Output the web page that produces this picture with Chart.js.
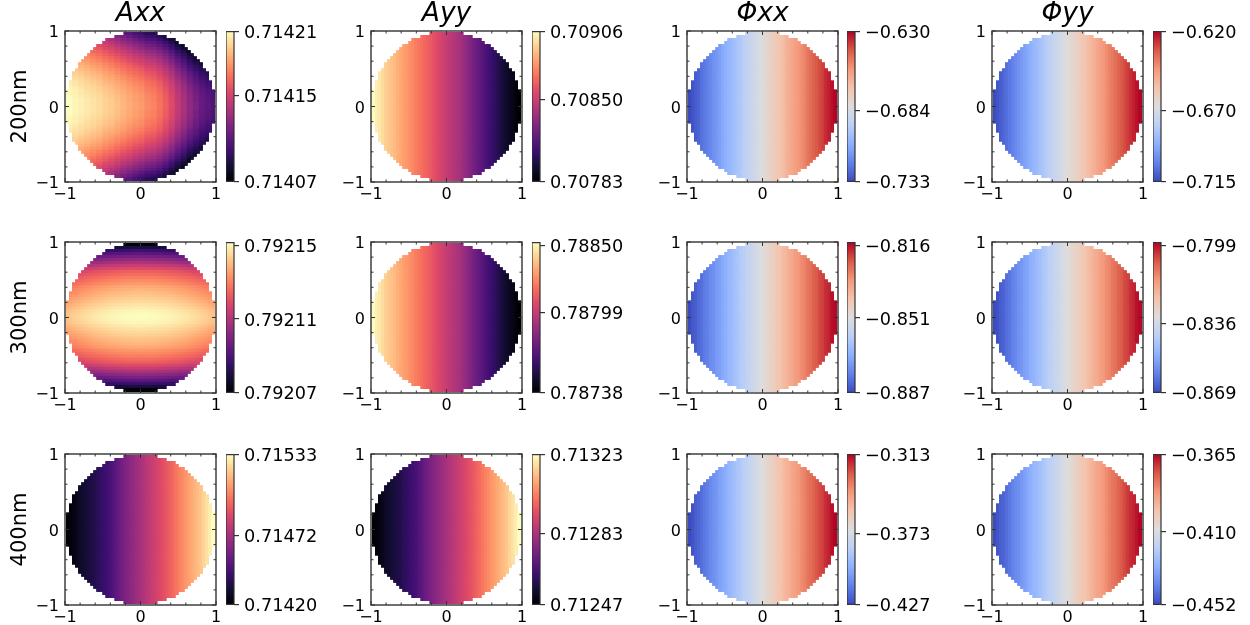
<!DOCTYPE html>
<html>
<head>
<meta charset="utf-8">
<script src="https://cdn.jsdelivr.net/npm/chart.js@4"></script>
<style>
html, body { margin: 0; background: #fff; overflow: hidden; }
body { position: relative; width: 1250px; height: 625px; filter: blur(0.6px); }
canvas { position: absolute; }
</style>
</head>
<body>
<script>
// labels
const rowLabels = ['200nm', '300nm', '400nm'];
const columnTitles = ['Axx', 'Ayy', 'Φxx', 'Φyy'];
const axisTickValues = [-1, 0, 1];
const axisTickLabels = ['−1', '0', '1'];
const minorTickValues = [-0.8, -0.6, -0.4, -0.2, 0.2, 0.4, 0.6, 0.8];

// colorbar tick labels, one row per wavelength, one entry per column
const barTicks = [
    [['0.71407', '0.71415', '0.71421'], ['0.70783', '0.70850', '0.70906'], ['−0.733', '−0.684', '−0.630'], ['−0.715', '−0.670', '−0.620']],
    [['0.79207', '0.79211', '0.79215'], ['0.78738', '0.78799', '0.78850'], ['−0.887', '−0.851', '−0.816'], ['−0.869', '−0.836', '−0.799']],
    [['0.71420', '0.71472', '0.71533'], ['0.71247', '0.71283', '0.71323'], ['−0.427', '−0.373', '−0.313'], ['−0.452', '−0.410', '−0.365']]
];
// top of each colorbar (row 300nm runs a little past its last tick)
const barMax = [
    [0.71421, 0.70906, -0.630, -0.620],
    [0.7921516, 0.78852, -0.8146, -0.7976],
    [0.71533, 0.71323, -0.313, -0.365]
];

// Axx 200nm: rows from y=0 up to y=0.96, two grid columns per entry, in 1e-6 above 0.714
const axx200Table = [
    [210,208,206,204,202,200,197,195,192,189,186,183,181,176,174,169,162,154,144,136,127,120,113,109,105],
    [210,208,206,204,202,200,197,195,192,189,186,183,181,176,174,169,162,154,144,136,127,120,113,109,105],
    [210,208,206,204,202,200,197,195,191,188,185,182,180,175,173,168,161,153,143,135,126,119,112,108,104],
    [209,207,205,203,201,199,196,194,191,188,185,182,180,175,173,168,161,153,143,135,126,119,112,108,104],
    [208,206,204,202,200,198,195,193,190,187,184,181,179,174,172,167,160,152,142,134,125,118,111,107,103],
    [208,206,204,201,199,197,194,192,189,186,183,179,177,172,170,165,158,150,140,132,123,116,109,105,101],
    [207,205,202,200,198,196,193,191,187,184,181,178,176,171,169,164,157,149,139,131,122,115,108,103,99],
    [206,203,201,199,197,194,191,189,186,183,179,176,174,169,167,162,155,147,137,129,120,113,106,101,97],
    [204,202,200,197,195,193,189,187,184,181,177,174,172,167,165,160,153,145,135,127,117,110,103,99,95],
    [203,200,198,195,193,191,187,185,182,178,175,172,169,164,162,157,150,142,132,124,115,108,101,96,92],
    [201,198,196,193,191,189,185,183,179,176,172,169,166,161,159,154,147,139,129,121,112,105,98,93,89],
    [199,196,194,191,189,186,183,180,176,173,169,166,163,158,156,151,144,136,126,118,109,102,95,90,86],
    [197,194,191,189,186,184,180,177,174,170,166,163,160,155,153,148,141,133,123,115,105,98,91,86,82],
    [195,192,189,186,183,181,177,174,170,167,163,159,156,151,149,144,137,129,119,111,102,95,88,83,79],
    [192,189,186,183,180,178,174,171,167,163,159,155,152,147,145,140,133,125,115,107,97,90,83,78,74],
    [190,186,183,180,177,174,170,167,163,159,155,151,148,143,141,136,129,121,111,103,93,86,79,74,70],
    [187,183,180,177,174,171,167,164,159,155,151,147,144,139,137,132,125,117,107,99,89,82,75,70,70],
    [184,180,177,174,170,167,163,159,155,151,147,142,139,134,132,127,120,112,102,94,84,77,70,70,70],
    [181,177,173,170,166,163,159,155,151,146,142,137,134,129,127,122,115,107,97,89,78,71,70,70,70],
    [177,173,170,166,162,159,154,151,146,141,137,132,128,123,121,116,109,101,91,83,73,70,70,70,70],
    [174,170,166,162,158,155,150,146,141,136,132,127,123,118,116,111,104,96,86,78,70,70,70,70,70],
    [170,166,161,157,153,150,145,141,136,130,126,121,117,112,110,105,98,90,80,72,70,70,70,70,70],
    [166,162,157,153,149,145,140,135,130,125,120,115,110,105,103,98,91,83,73,70,70,70,70,70,70],
    [162,157,153,148,144,140,134,130,124,119,114,108,104,99,97,92,85,77,70,70,70,70,70,70,70],
    [158,153,148,143,138,135,129,124,118,112,108,102,97,92,90,85,78,70,70,70,70,70,70,70,70]
];

// Axx 300nm: value by row from y=0 to y=0.96, and the small drop by |x| in 1e-7
const axx300ByRow = [0.7921516,0.7921512,0.7921504,0.7921487,0.7921471,0.7921455,0.7921438,0.7921422,0.7921406,0.792139,0.7921373,0.7921345,0.792132,0.7921296,0.7921267,0.7921239,0.7921194,0.7921145,0.7921092,0.7921039,0.7920986,0.7920928,0.7920867,0.7920798,0.7920708];
const axx300DropByCol = [0,0,1,2,3,4,6,8,11,14,17,21,24,29,33,38,43,49,55,61,68,75,82,90,98];

// the rest only change along x, one value per grid column from x=-0.96 to x=0.96
const axx400 = [0.7142,0.714217,0.714234,0.714257,0.714279,0.714296,0.714313,0.71433,0.714341,0.714358,0.714381,0.714398,0.71442,0.714437,0.71446,0.714488,0.714516,0.71455,0.714579,0.714607,0.714629,0.714652,0.714675,0.714697,0.71472,0.714742,0.714765,0.714788,0.71481,0.714833,0.714855,0.714878,0.714901,0.714923,0.714946,0.714974,0.715002,0.715031,0.715053,0.715081,0.715104,0.715127,0.715149,0.715172,0.715194,0.715228,0.715262,0.71529,0.71533];
const ayy200 = [0.70906,0.709023,0.708999,0.708968,0.708937,0.708919,0.7089,0.708882,0.708857,0.708839,0.708814,0.708796,0.708771,0.708753,0.708728,0.708703,0.708685,0.70866,0.708642,0.708617,0.708593,0.708568,0.708543,0.708519,0.708494,0.70847,0.708451,0.708427,0.708408,0.708384,0.708353,0.708322,0.708291,0.708254,0.708224,0.708193,0.708162,0.708131,0.708101,0.708076,0.708045,0.708015,0.707984,0.707953,0.707928,0.707904,0.707879,0.707855,0.70783];
const ayy300 = [0.78852,0.788486,0.788463,0.788435,0.788406,0.788389,0.788372,0.788355,0.788332,0.788315,0.788292,0.788275,0.788252,0.788235,0.788212,0.788189,0.788172,0.78815,0.788132,0.78811,0.788087,0.788064,0.788041,0.788018,0.787996,0.787973,0.787956,0.787933,0.787916,0.787893,0.787865,0.787836,0.787808,0.787773,0.787745,0.787716,0.787688,0.787659,0.787631,0.787608,0.78758,0.787551,0.787523,0.787494,0.787471,0.787448,0.787426,0.787403,0.78738];
const ayy400 = [0.71247,0.712481,0.712493,0.712508,0.712523,0.712535,0.712546,0.712557,0.712565,0.712576,0.712592,0.712603,0.712618,0.71263,0.712645,0.712664,0.712683,0.712706,0.712725,0.712744,0.712759,0.712774,0.712789,0.712804,0.71282,0.712835,0.71285,0.712865,0.71288,0.712896,0.712911,0.712926,0.712941,0.712956,0.712972,0.712991,0.71301,0.713029,0.713044,0.713063,0.713078,0.713093,0.713108,0.713124,0.713139,0.713162,0.713184,0.713203,0.71323];
const phiXx200 = [-0.733,-0.731,-0.729,-0.727,-0.724,-0.722,-0.72,-0.718,-0.716,-0.714,-0.712,-0.709,-0.707,-0.705,-0.703,-0.701,-0.699,-0.697,-0.694,-0.692,-0.69,-0.688,-0.686,-0.684,-0.682,-0.679,-0.677,-0.675,-0.673,-0.671,-0.669,-0.667,-0.664,-0.662,-0.66,-0.658,-0.656,-0.654,-0.652,-0.649,-0.647,-0.645,-0.643,-0.641,-0.639,-0.636,-0.634,-0.632,-0.63];
const phiXx300 = [-0.887,-0.885,-0.884,-0.882,-0.881,-0.879,-0.878,-0.876,-0.875,-0.873,-0.872,-0.87,-0.869,-0.867,-0.866,-0.864,-0.863,-0.861,-0.86,-0.858,-0.857,-0.855,-0.854,-0.852,-0.851,-0.849,-0.848,-0.846,-0.845,-0.843,-0.842,-0.84,-0.839,-0.837,-0.836,-0.834,-0.833,-0.831,-0.83,-0.828,-0.827,-0.825,-0.824,-0.822,-0.821,-0.819,-0.818,-0.816,-0.815];
const phiXx400 = [-0.427,-0.425,-0.422,-0.42,-0.418,-0.415,-0.413,-0.41,-0.408,-0.406,-0.403,-0.401,-0.399,-0.396,-0.394,-0.391,-0.389,-0.387,-0.384,-0.382,-0.38,-0.377,-0.375,-0.372,-0.37,-0.368,-0.365,-0.363,-0.361,-0.358,-0.356,-0.353,-0.351,-0.349,-0.346,-0.344,-0.342,-0.339,-0.337,-0.334,-0.332,-0.33,-0.327,-0.325,-0.323,-0.32,-0.318,-0.315,-0.313];
const phiYy200 = [-0.715,-0.713,-0.711,-0.709,-0.707,-0.705,-0.703,-0.701,-0.699,-0.697,-0.695,-0.693,-0.691,-0.689,-0.687,-0.685,-0.683,-0.681,-0.679,-0.677,-0.675,-0.673,-0.671,-0.669,-0.667,-0.665,-0.664,-0.662,-0.66,-0.658,-0.656,-0.654,-0.652,-0.65,-0.648,-0.646,-0.644,-0.642,-0.64,-0.638,-0.636,-0.634,-0.632,-0.63,-0.628,-0.626,-0.624,-0.622,-0.62];
const phiYy300 = [-0.869,-0.868,-0.866,-0.865,-0.863,-0.862,-0.86,-0.859,-0.857,-0.856,-0.854,-0.853,-0.851,-0.85,-0.848,-0.847,-0.845,-0.844,-0.842,-0.841,-0.839,-0.838,-0.836,-0.835,-0.833,-0.832,-0.83,-0.829,-0.828,-0.826,-0.825,-0.823,-0.822,-0.82,-0.819,-0.817,-0.816,-0.814,-0.813,-0.811,-0.81,-0.808,-0.807,-0.805,-0.804,-0.802,-0.801,-0.799,-0.798];
const phiYy400 = [-0.452,-0.45,-0.448,-0.447,-0.445,-0.443,-0.441,-0.439,-0.438,-0.436,-0.434,-0.432,-0.43,-0.428,-0.427,-0.425,-0.423,-0.421,-0.419,-0.418,-0.416,-0.414,-0.412,-0.41,-0.409,-0.407,-0.405,-0.403,-0.401,-0.399,-0.398,-0.396,-0.394,-0.392,-0.39,-0.389,-0.387,-0.385,-0.383,-0.381,-0.38,-0.378,-0.376,-0.374,-0.372,-0.37,-0.369,-0.367,-0.365];

// colormaps, evenly spaced stops
const magma = [[0,0,4],[20,14,54],[59,15,112],[100,26,128],[140,41,129],[183,55,121],[222,73,104],[247,112,92],[254,159,109],[254,207,146],[252,253,191]];
const coolwarm = [[59,76,192],[98,130,234],[141,176,254],[187,208,247],[221,221,221],[244,196,173],[244,152,122],[218,90,72],[180,4,38]];

const plotLeft = [65, 371, 687, 992];
const barLeft = [226, 532, 847, 1153];
const plotTop = [31, 242, 454];
const plotSize = 151;
const gridCount = 49;
const gridStep = 0.04;
const edgeColor = '#333';
const textColor = '#000';
const fontFamily = "'DejaVu Sans'";

const byCol = arr => (i, j) => arr[i];
const cellFuncs = [
    [
        (i, j) => 0.714 + axx200Table[Math.abs(j - 24)][i >> 1] * 1e-6,
        byCol(ayy200), byCol(phiXx200), byCol(phiYy200)
    ],
    [
        (i, j) => axx300ByRow[Math.abs(j - 24)] - axx300DropByCol[Math.abs(i - 24)] * 1e-7,
        byCol(ayy300), byCol(phiXx300), byCol(phiYy300)
    ],
    [byCol(axx400), byCol(ayy400), byCol(phiXx400), byCol(phiYy400)]
];

function tickNumber(label) {
    return Number(label.replace('−', '-'));
}

function mapColor(stops, t) {
    t = Math.min(1, Math.max(0, t));
    const p = t * (stops.length - 1);
    const a = Math.min(Math.floor(p), stops.length - 2);
    const f = p - a;
    const c = [0, 1, 2].map(k => Math.round(stops[a][k] + (stops[a + 1][k] - stops[a][k]) * f));
    return 'rgb(' + c.join(',') + ')';
}

function addCanvas(left, top, width, height) {
    const canvas = document.createElement('canvas');
    canvas.width = width;
    canvas.height = height;
    canvas.style.left = left + 'px';
    canvas.style.top = top + 'px';
    canvas.style.width = width + 'px';
    canvas.style.height = height + 'px';
    document.body.appendChild(canvas);
    return canvas;
}

// frame and inward ticks on all four sides, like the matplotlib 'in' style
const frameTicks = {
    id: 'frameTicks',
    afterDatasetsDraw(chart) {
        const { ctx, chartArea: a, scales } = chart;
        ctx.save();
        ctx.strokeStyle = edgeColor;
        ctx.lineWidth = 1;
        const drawSet = (values, len) => {
            values.forEach(v => {
                const px = scales.x.getPixelForValue(v);
                const py = scales.y.getPixelForValue(v);
                ctx.beginPath();
                ctx.moveTo(px, a.bottom); ctx.lineTo(px, a.bottom - len);
                ctx.moveTo(px, a.top); ctx.lineTo(px, a.top + len);
                ctx.moveTo(a.left, py); ctx.lineTo(a.left + len, py);
                ctx.moveTo(a.right, py); ctx.lineTo(a.right - len, py);
                ctx.stroke();
            });
        };
        drawSet(axisTickValues, 4);
        drawSet(minorTickValues, 2.5);
        ctx.lineWidth = 1.4;
        ctx.strokeRect(a.left, a.top, a.right - a.left, a.bottom - a.top);
        ctx.restore();
    }
};

const barFrame = {
    id: 'barFrame',
    afterDatasetsDraw(chart) {
        const { ctx, chartArea: a } = chart;
        ctx.save();
        ctx.strokeStyle = edgeColor;
        ctx.lineWidth = 1.2;
        ctx.strokeRect(a.left, a.top, a.right - a.left, a.bottom - a.top);
        ctx.restore();
    }
};

function drawPanel(row, col) {
    const stops = col < 2 ? magma : coolwarm;
    const lo = tickNumber(barTicks[row][col][0]);
    const hi = barMax[row][col];
    const cell = cellFuncs[row][col];
    const points = [];
    const colors = [];
    for (let j = 0; j < gridCount; j++) {
        for (let i = 0; i < gridCount; i++) {
            const x = (i - 24) * gridStep;
            const y = (24 - j) * gridStep;
            if (x * x + y * y > 0.97) continue;
            const v = cell(i, j);
            points.push({ x: x, y: y });
            colors.push(mapColor(stops, (v - lo) / (hi - lo)));
        }
    }
    const marginLeft = 60, marginTop = 30, marginBottom = 28, marginRight = 15;
    const canvas = addCanvas(plotLeft[col] - marginLeft, plotTop[row] - marginTop,
        marginLeft + plotSize + marginRight, marginTop + plotSize + marginBottom);
    new Chart(canvas, {
        type: 'scatter',
        data: {
            datasets: [{
                data: points,
                showLine: false,
                pointStyle: 'rect',
                pointRadius: 2.9,
                pointBorderWidth: 0,
                pointBackgroundColor: colors
            }]
        },
        options: {
            responsive: false,
            animation: false,
            events: [],
            layout: { padding: { top: row === 0 ? 0 : marginTop, right: marginRight } },
            plugins: {
                legend: { display: false },
                tooltip: { enabled: false },
                title: {
                    display: row === 0,
                    text: columnTitles[col],
                    fullSize: false,
                    color: textColor,
                    padding: { top: 0, bottom: 4 },
                    font: { family: fontFamily, size: 26.5, style: 'italic', weight: 'normal', lineHeight: 26 / 26.5 }
                }
            },
            scales: {
                x: {
                    type: 'linear',
                    min: -1,
                    max: 1,
                    afterBuildTicks: s => { s.ticks = axisTickValues.map(v => ({ value: v })); },
                    afterFit: s => { s.height = marginBottom; },
                    grid: { display: false, drawTicks: false },
                    border: { display: false },
                    ticks: {
                        autoSkip: false,
                        maxRotation: 0,
                        padding: 3,
                        color: textColor,
                        font: { family: fontFamily, size: 16 },
                        callback: v => axisTickLabels[axisTickValues.indexOf(v)]
                    }
                },
                y: {
                    type: 'linear',
                    min: -1,
                    max: 1,
                    afterBuildTicks: s => { s.ticks = axisTickValues.map(v => ({ value: v })); },
                    afterFit: s => { s.width = marginLeft; },
                    grid: { display: false, drawTicks: false },
                    border: { display: false },
                    title: {
                        display: col === 0,
                        text: rowLabels[row],
                        color: textColor,
                        padding: { top: 3, bottom: 0 },
                        font: { family: fontFamily, size: 21 }
                    },
                    ticks: {
                        autoSkip: false,
                        padding: 6,
                        labelOffset: 2,
                        color: textColor,
                        font: { family: fontFamily, size: 16 },
                        callback: v => axisTickLabels[axisTickValues.indexOf(v)]
                    }
                }
            }
        },
        plugins: [frameTicks]
    });
}

function drawColorbar(row, col) {
    const stops = col < 2 ? magma : coolwarm;
    const labels = barTicks[row][col];
    const values = labels.map(tickNumber);
    const lo = values[0];
    const hi = barMax[row][col];
    const pad = 15, barWidth = 8, labelWidth = 87;
    const canvas = addCanvas(barLeft[col], plotTop[row] - pad, barWidth + labelWidth, plotSize + 2 * pad);
    new Chart(canvas, {
        type: 'bar',
        data: {
            labels: [''],
            datasets: [{
                data: [[lo, hi]],
                categoryPercentage: 1,
                barPercentage: 1,
                backgroundColor: ctx => {
                    const a = ctx.chart.chartArea;
                    if (!a) return '#fff';
                    const g = ctx.chart.ctx.createLinearGradient(0, a.bottom, 0, a.top);
                    stops.forEach((c, k) => g.addColorStop(k / (stops.length - 1), 'rgb(' + c.join(',') + ')'));
                    return g;
                }
            }]
        },
        options: {
            responsive: false,
            animation: false,
            events: [],
            layout: { padding: { top: pad, bottom: pad } },
            plugins: { legend: { display: false }, tooltip: { enabled: false } },
            scales: {
                x: { display: false },
                y: {
                    position: 'right',
                    min: lo,
                    max: hi,
                    afterBuildTicks: s => { s.ticks = values.map(v => ({ value: v })); },
                    afterFit: s => { s.width = labelWidth; },
                    grid: { drawOnChartArea: false, tickLength: 5, color: edgeColor, lineWidth: 1.2 },
                    border: { display: false },
                    ticks: {
                        autoSkip: false,
                        padding: 5,
                        labelOffset: 2,
                        color: textColor,
                        font: { family: fontFamily, size: 17.7 },
                        callback: v => labels[values.indexOf(v)]
                    }
                }
            }
        },
        plugins: [barFrame]
    });
}

rowLabels.forEach((r, row) => {
    columnTitles.forEach((c, col) => {
        drawPanel(row, col);
        drawColorbar(row, col);
    });
});
</script>
</body>
</html>
